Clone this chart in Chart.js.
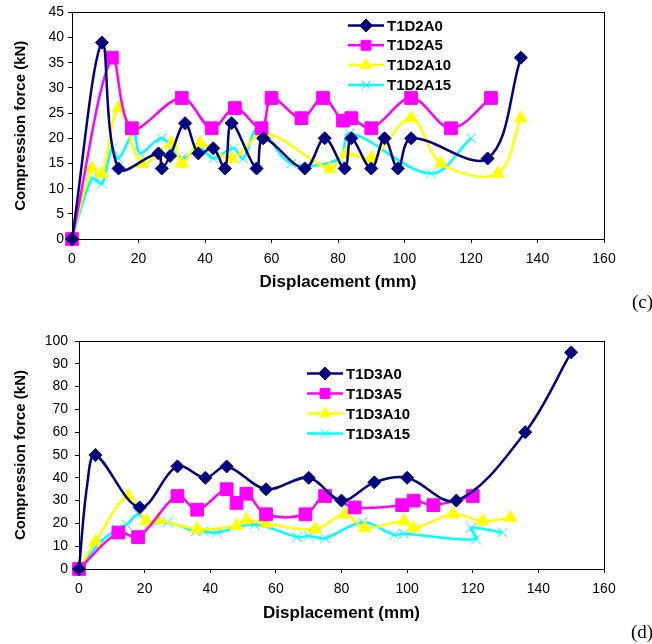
<!DOCTYPE html>
<html>
<head>
<meta charset="utf-8">
<script src="https://cdn.jsdelivr.net/npm/chart.js@4"></script>
<style>
  body { margin: 0; background: #fff; width: 652px; height: 644px; position: relative; overflow: hidden; }
  canvas { position: absolute; left: 0; }
  #c1 { top: 0; }
  #c2 { top: 320px; }
  .tag { position: absolute; font-family: "Liberation Serif", "Times New Roman", serif; font-size: 19px; color: #000; }
</style>
</head>
<body>
<canvas id="c1" width="652" height="300"></canvas>
<canvas id="c2" width="652" height="324"></canvas>
<div class="tag" style="left:632px; top:291px;">(c)</div>
<div class="tag" style="left:631px; top:621px;">(d)</div>
<script>
// ---- data (c): T1D2 series ----
const xTicks = [0, 20, 40, 60, 80, 100, 120, 140, 160];

const c_labels = ['T1D2A0', 'T1D2A5', 'T1D2A10', 'T1D2A15'];
const c_A0_x = [0, 9, 14, 26, 27, 29.5, 34, 38, 42.5, 46, 48, 55.5, 57.5, 70, 76, 82, 84, 90, 94, 98, 102, 125, 135];
const c_A0_y = [0, 39, 14, 17, 14, 16.5, 23, 17, 18, 14, 23, 14, 20, 14, 20, 14, 20, 14, 20, 14, 20, 16, 36];
const c_A5_x = [0, 12, 18, 33, 42, 49, 57, 60, 69, 75.5, 81.5, 84, 90, 102, 114, 126];
const c_A5_y = [0, 36, 22, 28, 22, 26, 22, 28, 24, 28, 23.5, 24, 22, 28, 22, 28];
const c_A10_x = [0, 6, 9, 14, 21, 30, 33, 38.5, 48, 58, 77.5, 82.5, 90, 102, 111, 128, 135];
const c_A10_y = [0, 14, 13, 26, 15, 19, 15, 19, 16, 21, 14, 17, 16, 24, 15, 13, 24];
const c_A15_x = [0, 6, 9, 12, 14, 18.5, 20.5, 27, 33, 38.5, 42.5, 48.5, 51.5, 56, 66, 80.5, 83.5, 108, 120];
const c_A15_y = [0, 12, 11, 18, 16, 21, 17, 20, 16, 18, 16, 18, 16, 22, 15, 16, 21, 13, 20];

// ---- data (d): T1D3 series ----
const d_labels = ['T1D3A0', 'T1D3A5', 'T1D3A10', 'T1D3A15'];
const d_A0_x = [0, 2.5, 5, 18.5, 30, 38.5, 45, 57, 70, 80, 90, 100, 115, 136, 150];
const d_A0_y = [0, 37, 50, 27, 45, 40, 45, 35, 40, 30, 38, 40, 30, 60, 95];
const d_A5_x = [0, 12, 18, 30, 36, 45, 48, 51, 57, 69, 75, 84, 98.5, 102, 108, 120];
const d_A5_y = [0, 16, 14, 32, 26, 35, 29, 33, 24, 24, 32, 27, 28, 30, 28, 32];
const d_A10_x = [0, 5, 15, 20.5, 24, 36, 48, 51, 57, 72, 81, 87, 99, 102, 114, 123, 131.5];
const d_A10_y = [0, 12, 32, 21, 21.5, 17.5, 19, 21.5, 20, 17.5, 24, 18, 21, 18, 24, 21, 22.5];
const d_A15_x = [0, 6, 11.5, 14.5, 18, 21.5, 27, 35.5, 38, 42, 53.5, 66.5, 70, 75, 86.5, 96, 99, 121, 119.5, 129];
const d_A15_y = [0, 11, 17.5, 19.5, 24, 20, 20.5, 16.5, 16.5, 16, 19.5, 14, 14.5, 13.5, 20.5, 15, 15.5, 13, 18, 16];

// series look (same for both charts)
const styles = [
    { color: '#000080', pointStyle: 'rectRot', radius: 6.5 },
    { color: '#ff00ff', pointStyle: 'rect', radius: 9 },
    { color: '#ffff00', pointStyle: 'triangle', radius: 7.5 },
    { color: '#00ffff', pointStyle: 'crossRot', radius: 7 }
];

const zip = (xs, ys) => xs.map((x, i) => ({ x: x, y: ys[i] }));

function makeSets(labels, series) {
    return series.map((s, i) => ({
        label: labels[i],
        data: zip(s[0], s[1]),
        borderColor: styles[i].color,
        backgroundColor: styles[i].color,
        pointBackgroundColor: styles[i].color,
        pointBorderColor: styles[i].color,
        pointStyle: styles[i].pointStyle,
        pointRadius: styles[i].radius,
        pointBorderWidth: 1,
        borderWidth: 2.5,
        tension: 0.35,
        clip: false
    }));
}

// black frame round the plot area
const framePlugin = {
    id: 'frame',
    afterDraw(chart) {
        const a = chart.chartArea, ctx = chart.ctx;
        ctx.save();
        ctx.strokeStyle = '#000';
        ctx.lineWidth = 1;
        ctx.strokeRect(Math.round(a.left) + 0.5, Math.round(a.top) + 0.5, Math.round(a.right - a.left), Math.round(a.bottom - a.top));
        ctx.restore();
    }
};

// legend with line + marker, like the spreadsheet one
const lineLegend = {
    id: 'lineLegend',
    afterDraw(chart, args, opts) {
        const ctx = chart.ctx;
        ctx.save();
        chart.data.datasets.forEach((ds, i) => {
            const y = opts.y + i * opts.gap;
            ctx.strokeStyle = ds.borderColor;
            ctx.lineWidth = 2.5;
            ctx.beginPath();
            ctx.moveTo(opts.x, y);
            ctx.lineTo(opts.x + opts.len, y);
            ctx.stroke();
            ctx.fillStyle = ds.borderColor;
            ctx.lineWidth = 1;
            Chart.helpers.drawPoint(ctx, {
                pointStyle: ds.pointStyle,
                radius: ds.pointStyle === 'rect' ? 7 : 6.5,
                rotation: 0,
                borderWidth: 1
            }, opts.x + opts.len / 2, y);
            ctx.fillStyle = '#000';
            ctx.font = 'bold 15px "Liberation Sans", Arial, sans-serif';
            ctx.textBaseline = 'middle';
            ctx.fillText(ds.label, opts.x + opts.len + 3, y + 1);
        });
        ctx.restore();
    }
};

function makeChart(id, sets, yMax, yStep, yWidth, yPad, pad, xHeight, legend) {
    return new Chart(document.getElementById(id), {
        type: 'line',
        data: { datasets: sets },
        plugins: [framePlugin, lineLegend],
        options: {
            responsive: false,
            animation: false,
            devicePixelRatio: 1,
            layout: { padding: pad },
            plugins: {
                legend: { display: false },
                tooltip: { enabled: false },
                lineLegend: legend
            },
            scales: {
                x: {
                    type: 'linear',
                    min: 0, max: 160,
                    afterBuildTicks: s => { s.ticks = xTicks.map(v => ({ value: v })); },
                    afterFit: s => { s.height = xHeight; },
                    grid: { drawOnChartArea: false, drawTicks: true, tickLength: 4, color: '#000' },
                    border: { display: true, color: '#000', width: 1 },
                    ticks: { color: '#000', padding: 8, maxRotation: 0, font: { family: '"Liberation Sans", Arial, sans-serif', size: 14 } },
                    title: {
                        display: true, text: 'Displacement (mm)', color: '#000',
                        padding: { top: 0, bottom: 2 },
                        font: { family: '"Liberation Sans", Arial, sans-serif', size: 17, weight: 'bold' }
                    }
                },
                y: {
                    min: 0, max: yMax,
                    afterFit: s => { s.width = yWidth; },
                    grid: { drawOnChartArea: false, drawTicks: true, tickLength: 4, color: '#000' },
                    border: { display: true, color: '#000', width: 1 },
                    ticks: { stepSize: yStep, color: '#000', padding: yPad, font: { family: '"Liberation Sans", Arial, sans-serif', size: 14 } },
                    title: {
                        display: true, text: 'Compression force (kN)', color: '#000',
                        padding: { top: 12, bottom: 0 },
                        font: { family: '"Liberation Sans", Arial, sans-serif', size: 15, weight: 'bold' }
                    }
                }
            }
        }
    });
}

const cSets = makeSets(c_labels, [[c_A0_x, c_A0_y], [c_A5_x, c_A5_y], [c_A10_x, c_A10_y], [c_A15_x, c_A15_y]]);
makeChart('c1', cSets, 45, 5, 72, 4, { left: 0, right: 48, top: 11, bottom: 5 }, 56,
    { x: 348, y: 25.5, gap: 19.8, len: 36 });

const dSets = makeSets(d_labels, [[d_A0_x, d_A0_y], [d_A5_x, d_A5_y], [d_A10_x, d_A10_y], [d_A15_x, d_A15_y]]);
// the small kink right after the origin carries no marker in the source
dSets[0].pointRadius = ctx => ctx.dataIndex === 1 ? 0 : 6.5;
makeChart('c2', dSets, 100, 10, 79, 7, { left: 0, right: 48, top: 21, bottom: 18 }, 57,
    { x: 307, y: 53.5, gap: 20, len: 36 });
</script>
</body>
</html>
